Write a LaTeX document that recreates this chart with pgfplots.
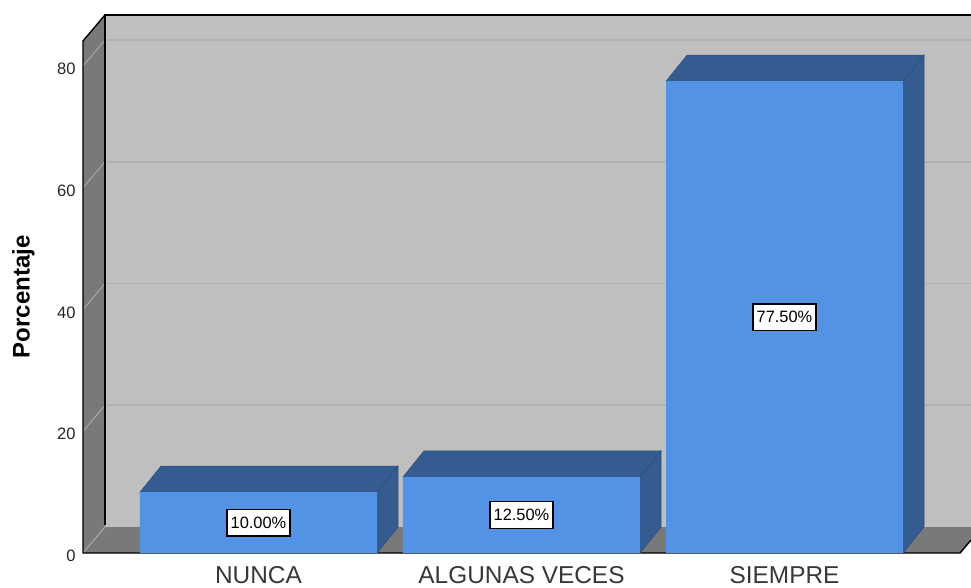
\documentclass[border=0pt]{standalone}
\usepackage{fontspec}
\setmainfont{Liberation Sans}
\usepackage{pgfplots}
\pgfplotsset{compat=1.18}
\definecolor{wallgray}{HTML}{BFBFBF}
\definecolor{sidegray}{HTML}{797979}
\definecolor{gridgray}{HTML}{B0B0B0}
\definecolor{barblue}{HTML}{5393E5}
\definecolor{bardark}{HTML}{345C90}
\definecolor{baredge}{HTML}{2C4F7E}
\begin{document}
\begin{tikzpicture}
% page is 971x587 px at 0.75pt/px
\path[use as bounding box] (0,0) rectangle (728.25pt,440.25pt);
\begin{axis}[
    at={(62.25pt,25.5pt)}, anchor=south west,
    scale only axis, width=666pt, height=403.5pt,
    xmin=-0.6673, xmax=2.7091, ymin=0, ymax=88.38,
    clip=false,
    axis line style={draw=none},
    major tick length=0pt,
    xtick pos=lower, ytick pos=left,
    xtick={0,1,2},
    xticklabels={NUNCA,ALGUNAS VECES,SIEMPRE},
    ytick={0,20,40,60,80},
    /pgf/number format/assume math mode=true,
    x tick label style={font=\fontsize{18.3}{20}\selectfont, text=black!78, yshift=-6.2pt},
    y tick label style={font=\fontsize{12.4}{14}\selectfont, text=black!85, xshift=-2pt, yshift=-2.2pt},
    ylabel={Porcentaje},
    ylabel style={at={(axis description cs:-0.0672,0.476)}, anchor=center,
        font=\fontsize{18}{20}\selectfont\bfseries},
]
% back wall
\addplot[fill=wallgray, draw=none] coordinates {(-0.5837,4.271) (2.7091,4.271) (2.7091,88.38) (-0.5837,88.38)} -- cycle;
% left wall
\addplot[fill=sidegray, draw=none] coordinates {(-0.6673,0) (-0.5837,4.271) (-0.5837,88.38) (-0.6673,84.11)} -- cycle;
% floor
\addplot[fill=sidegray, draw=none] coordinates {(-0.6673,0) (2.6673,0) (2.7091,2.135) (2.7091,4.271) (-0.5837,4.271)} -- cycle;
% grid on the back wall
\addplot[gridgray, line width=1.2pt] coordinates {(-0.5837,24.271) (2.7091,24.271)};
\addplot[gridgray, line width=1.2pt] coordinates {(-0.5837,44.271) (2.7091,44.271)};
\addplot[gridgray, line width=1.2pt] coordinates {(-0.5837,64.271) (2.7091,64.271)};
\addplot[gridgray, line width=1.2pt] coordinates {(-0.5837,84.271) (2.7091,84.271)};
% grid on the left wall
\addplot[gridgray, line width=0.6pt] coordinates {(-0.6673,0) (-0.5837,4.271)};
\addplot[gridgray, line width=0.6pt] coordinates {(-0.6673,20) (-0.5837,24.271)};
\addplot[gridgray, line width=0.6pt] coordinates {(-0.6673,40) (-0.5837,44.271)};
\addplot[gridgray, line width=0.6pt] coordinates {(-0.6673,60) (-0.5837,64.271)};
\addplot[gridgray, line width=0.6pt] coordinates {(-0.6673,80) (-0.5837,84.271)};
% wall edges
\addplot[black, line width=1.1pt] coordinates {(-0.5837,4.6) (-0.5837,88.38) (2.7091,88.38)};
\addplot[black, line width=1.1pt] coordinates {(-0.5837,88.38) (-0.6673,84.11) (-0.6673,0) (2.6673,0) (2.7091,2.135)};
% bars: side and top faces
\addplot[fill=bardark, draw=baredge, line width=0.4pt] coordinates {(0.4506,0) (0.5304,4.271) (0.5304,14.271) (0.4506,10)} -- cycle;
\addplot[fill=bardark, draw=baredge, line width=0.4pt] coordinates {(-0.4506,10) (-0.3708,14.271) (0.5304,14.271) (0.4506,10)} -- cycle;
\addplot[fill=bardark, draw=baredge, line width=0.4pt] coordinates {(1.4506,0) (1.5304,4.271) (1.5304,16.771) (1.4506,12.5)} -- cycle;
\addplot[fill=bardark, draw=baredge, line width=0.4pt] coordinates {(0.5494,12.5) (0.6292,16.771) (1.5304,16.771) (1.4506,12.5)} -- cycle;
\addplot[fill=bardark, draw=baredge, line width=0.4pt] coordinates {(2.4506,0) (2.5304,4.271) (2.5304,81.771) (2.4506,77.5)} -- cycle;
\addplot[fill=bardark, draw=baredge, line width=0.4pt] coordinates {(1.5494,77.5) (1.6292,81.771) (2.5304,81.771) (2.4506,77.5)} -- cycle;
% bars: front faces
\addplot[ybar, bar shift=0pt, bar width=0.9012, fill=barblue, draw=none] coordinates {(0,10) (1,12.5) (2,77.5)};
% value labels
\addplot[draw=none, point meta=explicit symbolic,
    nodes near coords, nodes near coords align={center},
    every node near coord/.style={fill=white, draw=black, line width=1.1pt,
        inner sep=0pt, minimum width=47.5pt, minimum height=20pt, align=center,
        font=\fontsize{12.3}{14}\selectfont, text=black}]
    coordinates {(0,5)[10.00\%] (1,6.25)[12.50\%] (2,38.75)[77.50\%]};
\end{axis}
\end{tikzpicture}
\end{document}
